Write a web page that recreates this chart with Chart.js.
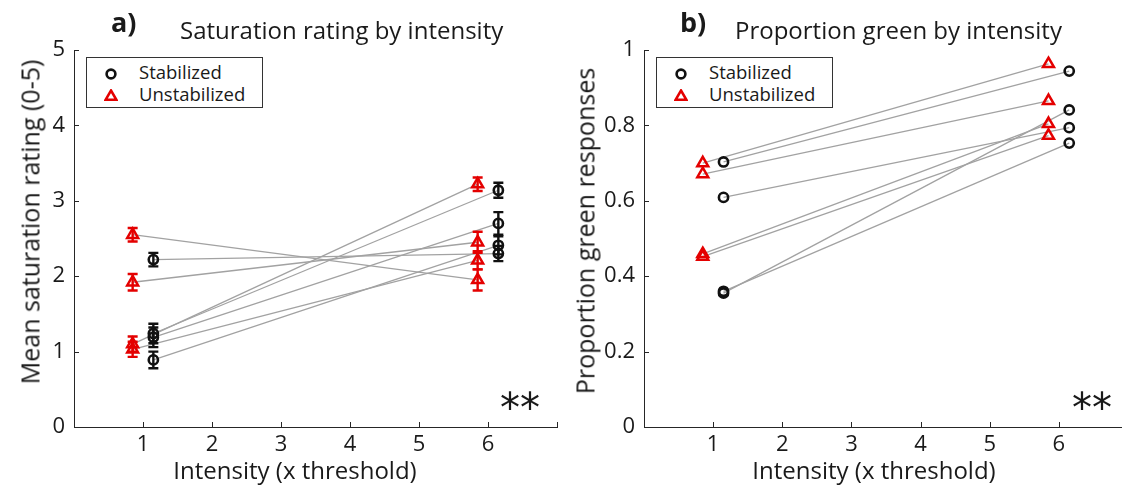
<!DOCTYPE html>
<html>
<head>
<meta charset="utf-8">
<script src="https://cdn.jsdelivr.net/npm/chart.js@4.4.1/dist/chart.umd.min.js"></script>
<style>
html,body{margin:0;padding:0;width:1122px;height:486px;overflow:hidden;background:#fff;font-family:"Open Sans",sans-serif;color:#1a1a1a;}
body{position:relative;}
canvas{position:absolute;top:0;}
.t{position:absolute;white-space:nowrap;line-height:1;}
.lab{font-weight:bold;font-size:27px;}
.ttl{font-size:24px;}
.axt{position:absolute;white-space:nowrap;line-height:1;transform:translate(-50%,-50%);}
.xt{font-size:24px;}
.yt{font-size:25px;transform:translate(-50%,-50%) rotate(-90deg);}
.legend{position:absolute;border:1px solid #333;background:#fff;box-sizing:border-box;width:177px;height:51px;}
.row{position:absolute;left:0;font-size:18.5px;line-height:1;white-space:nowrap;}
.row svg{position:absolute;left:17px;top:-7px;}
.row span{position:absolute;left:52px;top:-11px;}
.star{font-family:"DejaVu Sans",sans-serif;font-size:40px;}
</style>
</head>
<body>
<canvas id="ca" width="600" height="486" style="left:0px"></canvas>
<canvas id="cb" width="600" height="486" style="left:560px"></canvas>

<div class="t lab" style="left:111px;top:8px;">a)</div>
<div class="t ttl" style="left:180px;top:18px;">Saturation rating by intensity</div>
<div class="t lab" style="left:680px;top:8px;">b)</div>
<div class="t ttl" style="left:735px;top:18px;">Proportion green by intensity</div>

<div class="axt xt" style="left:295px;top:470px;">Intensity (x threshold)</div>
<div class="axt xt" style="left:874px;top:470px;">Intensity (x threshold)</div>
<div class="axt yt" style="left:30px;top:222px;">Mean saturation rating (0-5)</div>
<div class="axt yt" style="left:585px;top:231px;">Proportion green responses</div>

<div class="legend" style="left:86px;top:57px;">
  <div class="row" style="top:16px;"><svg width="14" height="14"><circle cx="7" cy="7" r="4.4" fill="none" stroke="#111" stroke-width="2.6"/></svg><span>Stabilized</span></div>
  <div class="row" style="top:38px;"><svg width="14" height="14"><polygon points="7,1.5 12.4,10.8 1.6,10.8" fill="none" stroke="#e40000" stroke-width="2.5" stroke-linejoin="miter"/></svg><span>Unstabilized</span></div>
</div>
<div class="legend" style="left:656px;top:57px;">
  <div class="row" style="top:16px;"><svg width="14" height="14"><circle cx="7" cy="7" r="4.4" fill="none" stroke="#111" stroke-width="2.6"/></svg><span>Stabilized</span></div>
  <div class="row" style="top:38px;"><svg width="14" height="14"><polygon points="7,1.5 12.4,10.8 1.6,10.8" fill="none" stroke="#e40000" stroke-width="2.5" stroke-linejoin="miter"/></svg><span>Unstabilized</span></div>
</div>

<div class="t star" style="left:500px;top:388px;">**</div>
<div class="t star" style="left:1072px;top:388px;">**</div>

<script>
// ---------- data ----------
const intensityLevels = [1, 6];
const xTickValues = [1, 2, 3, 4, 5, 6];
const xTickMarks = [1, 2, 3, 4, 5, 6, 7];
const yTicksA = [0, 1, 2, 3, 4, 5];
const yTicksB = [0, 0.2, 0.4, 0.6, 0.8, 1];

// Panel a: mean saturation rating (0-5), one value per subject
const satStabLow      = [2.22, 0.89, 1.24, 1.19];
const satStabHigh     = [2.30, 2.41, 3.14, 2.70];
const satStabLowErr   = [0.09, 0.11, 0.13, 0.13];
const satStabHighErr  = [0.10, 0.12, 0.10, 0.15];
const satUnstLow      = [2.55, 1.92, 1.10, 1.03];
const satUnstHigh     = [1.95, 2.45, 3.22, 2.21];
const satUnstLowErr   = [0.09, 0.11, 0.10, 0.10];
const satUnstHighErr  = [0.14, 0.14, 0.09, 0.12];

// Panel b: proportion green responses, one value per subject
const greenStabLow  = [0.703, 0.609, 0.355, 0.360];
const greenStabHigh = [0.944, 0.794, 0.841, 0.753];
const greenUnstLow  = [0.700, 0.671, 0.459, 0.452];
const greenUnstHigh = [0.963, 0.865, 0.804, 0.773];

// ---------- style ----------
const STAB_OFF = 0.15, UNST_OFF = -0.15;
const AX = '#262626', TXT = '#1a1a1a', RED = '#e40000', BLK = '#111111', GRAY = '#a2a2a2';
const FAM = '"Open Sans", sans-serif';

const errorBars = {
  id: 'errorBars',
  beforeDatasetDraw(chart, args) {
    const ds = chart.data.datasets[args.index];
    if (!ds.errors) return;
    const ys = chart.scales.y, ctx = chart.ctx;
    ctx.save();
    ctx.strokeStyle = ds.borderColor;
    ctx.lineWidth = 2.4;
    ds.data.forEach((p, i) => {
      const e = ds.errors[i];
      const x = args.meta.data[i].x;
      const y1 = ys.getPixelForValue(p.y - e), y2 = ys.getPixelForValue(p.y + e);
      ctx.beginPath();
      ctx.moveTo(x, y1); ctx.lineTo(x, y2);
      ctx.moveTo(x - 5, y1); ctx.lineTo(x + 5, y1);
      ctx.moveTo(x - 5, y2); ctx.lineTo(x + 5, y2);
      ctx.stroke();
    });
    ctx.restore();
  }
};

const inwardTicks = {
  id: 'inwardTicks',
  afterDraw(chart, args, opts) {
    const {ctx, chartArea: a, scales: {x, y}} = chart;
    ctx.save();
    ctx.strokeStyle = AX; ctx.lineWidth = 1;
    ctx.beginPath();
    opts.xt.forEach(v => { const px = Math.round(x.getPixelForValue(v)) + 0.5; ctx.moveTo(px, a.bottom); ctx.lineTo(px, a.bottom - 5); });
    opts.yt.forEach(v => { const py = Math.round(y.getPixelForValue(v)) + 0.5; ctx.moveTo(a.left, py); ctx.lineTo(a.left + 5, py); });
    ctx.stroke();
    ctx.restore();
  }
};

function buildDatasets(sLow, sHigh, uLow, uHigh, errs) {
  const ds = [];
  const seg = (low, high, off) => low.map((v, i) => [
    {x: intensityLevels[0] + off, y: v},
    {x: intensityLevels[1] + off, y: high[i]}
  ]);
  const lines = [];
  const sSeg = seg(sLow, sHigh, STAB_OFF), uSeg = seg(uLow, uHigh, UNST_OFF);
  for (let i = 0; i < sSeg.length; i++) { lines.push(uSeg[i]); lines.push(sSeg[i]); }
  lines.forEach(d => ds.push({
    type: 'line', data: d, borderColor: GRAY, borderWidth: 1.3,
    pointRadius: 0, fill: false, tension: 0, order: 5
  }));
  const pts = (low, high, off) => [
    ...low.map(v => ({x: intensityLevels[0] + off, y: v})),
    ...high.map(v => ({x: intensityLevels[1] + off, y: v}))
  ];
  const stab = {
    type: 'scatter', label: 'Stabilized', data: pts(sLow, sHigh, STAB_OFF),
    pointStyle: 'circle', pointRadius: 4.6, borderWidth: 2.6,
    borderColor: BLK, backgroundColor: 'rgba(0,0,0,0)', order: 2
  };
  const unst = {
    type: 'scatter', label: 'Unstabilized', data: pts(uLow, uHigh, UNST_OFF),
    pointStyle: 'triangle', pointRadius: 6.3, borderWidth: 2.5,
    borderColor: RED, backgroundColor: 'rgba(0,0,0,0)', order: 1
  };
  if (errs) { stab.errors = errs.s; unst.errors = errs.u; }
  ds.push(stab); ds.push(unst);
  return ds;
}

function makeChart(id, datasets, cfg) {
  return new Chart(document.getElementById(id), {
    data: {datasets},
    plugins: [errorBars, inwardTicks],
    options: {
      responsive: false, animation: false, events: [],
      layout: {padding: {left: 0, top: 50, right: cfg.padRight, bottom: 0}},
      plugins: {legend: {display: false}, tooltip: {enabled: false}, title: {display: false},
                inwardTicks: {xt: xTickMarks, yt: cfg.yTicks}},
      scales: {
        x: {
          type: 'linear', min: 0, max: 7,
          afterBuildTicks: s => { s.ticks = xTickValues.map(v => ({value: v})); },
          afterFit: s => { s.height = 59; },
          grid: {display: false, drawTicks: false},
          border: {display: true, color: AX, width: 1},
          ticks: {font: {family: FAM, size: 22}, color: TXT, padding: 5, maxRotation: 0, autoSkip: false},
          title: {display: false}
        },
        y: {
          type: 'linear', min: cfg.yMin, max: cfg.yMax,
          afterBuildTicks: s => { s.ticks = cfg.yTicks.map(v => ({value: v})); },
          afterFit: s => { s.width = cfg.yWidth; },
          grid: {display: false, drawTicks: false},
          border: {display: true, color: AX, width: 1},
          ticks: {font: {family: FAM, size: 22}, color: TXT, padding: 9, autoSkip: false,
                  callback: v => String(Number(v.toFixed(2)))},
          title: {display: false}
        }
      }
    }
  });
}

makeChart('ca',
  buildDatasets(satStabLow, satStabHigh, satUnstLow, satUnstHigh, {
    s: [...satStabLowErr, ...satStabHighErr],
    u: [...satUnstLowErr, ...satUnstHighErr]
  }),
  {padRight: 43, yMin: 0, yMax: 5, yTicks: yTicksA, yWidth: 74});

makeChart('cb',
  buildDatasets(greenStabLow, greenStabHigh, greenUnstLow, greenUnstHigh, null),
  {padRight: 32, yMin: 0, yMax: 1, yTicks: yTicksB, yWidth: 84});
</script>
</body>
</html>
